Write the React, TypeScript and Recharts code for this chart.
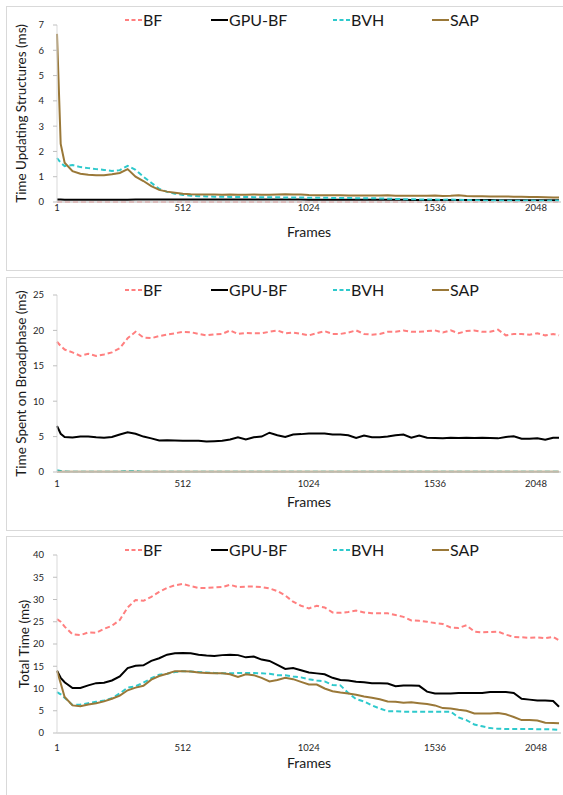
import { LineChart, Line, XAxis, YAxis, Legend } from "recharts";

// frame numbers the curves were sampled at
const frames = [
  1, 16, 32, 64, 96, 128, 160, 192, 224, 256, 288, 320, 352, 384, 416, 448, 480, 512, 544, 576, 608, 640, 672,
  704, 736, 768, 800, 832, 864, 896, 928, 960, 992, 1024, 1056, 1088, 1120, 1152, 1184, 1216, 1248, 1280, 1312,
  1344, 1376, 1408, 1440, 1472, 1504, 1536, 1568, 1600, 1632, 1664, 1696, 1728, 1760, 1792, 1824, 1856, 1888,
  1920, 1952, 1984, 2016, 2040,
];
const frameTicks = [1, 512, 1024, 1536, 2048];

// chart 1: time updating structures (ms)
const bfUpdate = [
  0, 0, 0, 0, 0, 0, 0, 0, 0, 0, 0, 0, 0, 0, 0, 0, 0, 0, 0, 0, 0, 0, 0, 0, 0, 0, 0, 0, 0, 0, 0, 0, 0, 0, 0, 0, 0,
  0, 0, 0, 0, 0, 0, 0, 0, 0, 0, 0, 0, 0, 0, 0, 0, 0, 0, 0, 0, 0, 0, 0, 0, 0, 0, 0, 0, 0,
];
const gpuUpdate = [
  0.1, 0.1, 0.09, 0.09, 0.09, 0.09, 0.09, 0.09, 0.09, 0.09, 0.09, 0.1, 0.1, 0.1, 0.1, 0.1, 0.1, 0.1, 0.1, 0.1,
  0.1, 0.1, 0.1, 0.1, 0.1, 0.1, 0.1, 0.1, 0.1, 0.1, 0.1, 0.1, 0.1, 0.09, 0.09, 0.09, 0.09, 0.09, 0.09, 0.09, 0.09,
  0.09, 0.09, 0.09, 0.09, 0.09, 0.08, 0.08, 0.08, 0.08, 0.08, 0.08, 0.08, 0.08, 0.08, 0.08, 0.08, 0.07, 0.07,
  0.07, 0.07, 0.07, 0.07, 0.07, 0.07, 0.07,
];
const bvhUpdate = [
  1.74, 1.55, 1.42, 1.46, 1.38, 1.34, 1.3, 1.27, 1.23, 1.26, 1.43, 1.27, 1.0, 0.76, 0.52, 0.4, 0.33, 0.28, 0.25,
  0.23, 0.22, 0.21, 0.21, 0.2, 0.2, 0.2, 0.19, 0.19, 0.19, 0.19, 0.18, 0.18, 0.18, 0.17, 0.17, 0.17, 0.16, 0.16,
  0.16, 0.15, 0.15, 0.15, 0.14, 0.13, 0.12, 0.11, 0.11, 0.1, 0.1, 0.1, 0.09, 0.1, 0.09, 0.08, 0.07, 0.06, 0.05,
  0.06, 0.05, 0.05, 0.05, 0.06, 0.05, 0.05, 0.06, 0.05,
];
const sapUpdate = [
  6.65, 2.3, 1.55, 1.22, 1.12, 1.08, 1.06, 1.06, 1.1, 1.15, 1.3, 1.0, 0.83, 0.63, 0.48, 0.41, 0.37, 0.33, 0.31,
  0.3, 0.3, 0.3, 0.29, 0.3, 0.29, 0.29, 0.3, 0.29, 0.29, 0.3, 0.31, 0.3, 0.3, 0.28, 0.27, 0.27, 0.27, 0.27, 0.26,
  0.26, 0.26, 0.26, 0.26, 0.27, 0.25, 0.25, 0.25, 0.25, 0.25, 0.26, 0.24, 0.25, 0.27, 0.24, 0.23, 0.23, 0.22,
  0.22, 0.22, 0.21, 0.21, 0.2, 0.2, 0.19, 0.18, 0.18,
];

// chart 2: time spent on broadphase (ms)
const bfBroad = [
  18.4, 17.8, 17.3, 16.9, 16.4, 16.7, 16.4, 16.6, 16.9, 17.5, 18.9, 19.8, 19.0, 18.9, 19.2, 19.4, 19.6, 19.8,
  19.75, 19.5, 19.3, 19.45, 19.5, 20.0, 19.5, 19.65, 19.6, 19.6, 19.8, 20.0, 19.6, 19.7, 19.5, 19.3, 19.6, 19.9,
  19.5, 19.5, 19.7, 20.0, 19.5, 19.4, 19.5, 19.8, 19.8, 20.0, 19.8, 19.8, 19.9, 20.0, 19.7, 20.0, 19.6, 19.9,
  20.0, 19.8, 19.8, 20.1, 19.3, 19.5, 19.5, 19.4, 19.6, 19.3, 19.5, 19.3,
];
const gpuBroad = [
  6.5, 5.4, 4.95, 4.88, 5.0, 5.0, 4.9, 4.85, 4.95, 5.3, 5.6, 5.4, 5.0, 4.75, 4.45, 4.5, 4.45, 4.4, 4.42, 4.4, 4.3,
  4.35, 4.4, 4.6, 4.9, 4.6, 4.9, 5.0, 5.55, 5.2, 4.95, 5.3, 5.35, 5.45, 5.45, 5.45, 5.3, 5.3, 5.2, 4.8, 5.15, 4.9,
  4.9, 5.0, 5.2, 5.3, 4.85, 5.15, 4.85, 4.8, 4.75, 4.85, 4.8, 4.85, 4.8, 4.85, 4.8, 4.75, 4.95, 5.05, 4.7, 4.7,
  4.75, 4.55, 4.85, 4.85,
];
const bvhBroad = [
  0.25, 0.15, 0.06, 0.04, 0.04, 0.04, 0.04, 0.04, 0.04, 0.05, 0.1, 0.1, 0.04, 0.04, 0.04, 0.04, 0.04, 0.04, 0.04,
  0.04, 0.04, 0.04, 0.04, 0.04, 0.04, 0.04, 0.04, 0.04, 0.04, 0.04, 0.04, 0.04, 0.04, 0.04, 0.04, 0.04, 0.04,
  0.04, 0.04, 0.04, 0.04, 0.04, 0.04, 0.04, 0.04, 0.04, 0.04, 0.04, 0.04, 0.04, 0.04, 0.04, 0.04, 0.04, 0.04,
  0.04, 0.04, 0.04, 0.04, 0.04, 0.04, 0.04, 0.04, 0.04, 0.04, 0.04,
];
const sapBroad = [
  0.03, 0.03, 0.03, 0.03, 0.03, 0.03, 0.03, 0.03, 0.03, 0.03, 0.03, 0.03, 0.03, 0.03, 0.03, 0.03, 0.03, 0.03,
  0.03, 0.03, 0.03, 0.03, 0.03, 0.03, 0.03, 0.03, 0.03, 0.03, 0.03, 0.03, 0.03, 0.03, 0.03, 0.03, 0.03, 0.03,
  0.03, 0.03, 0.03, 0.03, 0.03, 0.03, 0.03, 0.03, 0.03, 0.03, 0.03, 0.03, 0.03, 0.03, 0.03, 0.03, 0.03, 0.03,
  0.03, 0.03, 0.03, 0.03, 0.03, 0.03, 0.03, 0.03, 0.03, 0.03, 0.03, 0.03,
];

// chart 3: total time (ms)
const bfTotal = [
  25.6, 25.0, 23.9, 22.2, 22.0, 22.6, 22.5, 23.4, 24.1, 25.4, 28.2, 29.9, 29.7, 30.6, 31.7, 32.6, 33.2, 33.5,
  33.0, 32.6, 32.6, 32.7, 32.8, 33.3, 32.8, 32.9, 32.9, 32.8, 32.5, 31.9, 30.9, 29.5, 28.6, 28.0, 28.6, 28.2,
  27.1, 27.0, 27.2, 27.5, 27.1, 26.9, 26.9, 26.9, 26.5, 26.1, 25.3, 25.2, 25.0, 24.7, 24.5, 23.7, 23.6, 24.2,
  22.8, 22.6, 22.7, 22.8, 22.1, 21.6, 21.5, 21.4, 21.5, 21.3, 21.6, 20.8,
];
const gpuTotal = [
  14.0, 12.4, 11.4, 10.1, 10.1, 10.7, 11.2, 11.3, 11.8, 12.7, 14.6, 15.1, 15.2, 16.2, 16.8, 17.6, 17.9, 18.0,
  17.9, 17.6, 17.4, 17.3, 17.5, 17.6, 17.5, 17.0, 17.2, 16.5, 16.2, 15.3, 14.4, 14.6, 14.1, 13.6, 13.4, 13.2,
  12.4, 11.9, 11.8, 11.5, 11.4, 11.2, 11.2, 11.1, 10.5, 10.7, 10.7, 10.6, 9.3, 8.9, 8.9, 8.9, 9.0, 9.0, 9.0, 9.0,
  9.2, 9.2, 9.2, 9.0, 7.7, 7.5, 7.3, 7.3, 7.2, 5.9,
];
const bvhTotal = [
  9.2, 8.7, 7.9, 6.3, 6.4, 6.7, 7.0, 7.3, 7.8, 8.9, 10.2, 10.5, 11.3, 12.3, 13.1, 13.3, 13.7, 13.9, 13.8, 13.7,
  13.6, 13.5, 13.4, 13.4, 13.5, 13.5, 13.5, 13.4, 13.3, 13.0, 13.0, 12.7, 12.5, 12.1, 11.8, 11.6, 10.8, 10.7,
  9.0, 7.6, 7.1, 6.2, 5.5, 4.9, 4.9, 4.8, 4.8, 4.8, 4.8, 4.8, 4.8, 4.8, 3.5, 2.9, 1.9, 1.5, 1.1, 0.95, 0.9, 0.9,
  0.9, 0.9, 0.85, 0.85, 0.8, 0.7,
];
const sapTotal = [
  14.0, 11.2, 8.1, 6.2, 6.0, 6.4, 6.7, 7.1, 7.7, 8.4, 9.6, 10.2, 10.6, 12.0, 12.8, 13.3, 13.9, 13.9, 13.8, 13.6,
  13.5, 13.4, 13.4, 13.2, 12.6, 13.2, 13.0, 12.4, 11.6, 11.9, 12.4, 12.1, 11.5, 10.9, 10.9, 10.0, 9.4, 9.1, 8.9,
  8.6, 8.2, 7.9, 7.6, 7.1, 7.0, 6.8, 6.9, 6.7, 6.5, 6.2, 5.6, 5.5, 5.2, 5.0, 4.4, 4.4, 4.4, 4.5, 4.2, 3.6, 2.9,
  2.9, 2.8, 2.3, 2.25, 2.2,
];

const series = [
  { key: "BF", color: "#FF7F7F", dash: "5 3", legendLeft: 125 },
  { key: "GPU-BF", color: "#000000", dash: undefined, legendLeft: 211 },
  { key: "BVH", color: "#2EC9CC", dash: "5 3", legendLeft: 333 },
  { key: "SAP", color: "#9A7838", dash: undefined, legendLeft: 432 },
];

const buildRows = (bf: number[], gpu: number[], bvh: number[], sap: number[]) =>
  frames.map((f, i) => ({ frame: f, BF: bf[i], "GPU-BF": gpu[i], BVH: bvh[i], SAP: sap[i] }));

const renderLegend = () => (
  <div style={{ position: "relative", width: 570, height: 20 }}>
    {series.map((s) => (
      <div
        key={s.key}
        style={{ position: "absolute", left: s.legendLeft, top: 0, height: 20, display: "flex", alignItems: "center" }}
      >
        <svg width={17} height={4} style={{ display: "block" }}>
          <line x1={0} y1={2} x2={17} y2={2} stroke={s.color} strokeWidth={2} strokeDasharray={s.dash ? "4 2.5" : undefined} />
        </svg>
        <span style={{ fontSize: 16, marginLeft: 1, color: "#1a1a1a", lineHeight: "20px" }}>{s.key}</span>
      </div>
    ))}
  </div>
);

const FrameTick = (props: any) => {
  const { x, y, payload } = props;
  const last = payload.value === 2048;
  return (
    <text x={last ? x - 7 : x} y={y} dy="0.71em" textAnchor={last ? "end" : "middle"} fontSize={9.5} fill="#262626">
      {payload.value}
    </text>
  );
};

type PanelProps = {
  top: number;
  height: number;
  rows: any[];
  yMax: number;
  yTicks: number[];
  yTitle: string;
  yTitleX: number;
  xTickGap: number;
};

const Panel = ({ top, height, rows, yMax, yTicks, yTitle, yTitleX, xTickGap }: PanelProps) => (
  <div style={{ position: "absolute", left: 0, top }}>
    <LineChart width={570} height={height} data={rows} margin={{ top: 5, right: 9, bottom: 0, left: 0 }}>
      <XAxis
        dataKey="frame"
        type="number"
        domain={[1, 2048]}
        ticks={frameTicks}
        tick={<FrameTick />}
        tickLine={false}
        tickSize={0}
        tickMargin={xTickGap}
        height={40}
        axisLine={{ stroke: "#D0D0D0", strokeWidth: 1.5 }}
        label={{ value: "Frames", position: "insideBottom", offset: 5, fontSize: 14, fill: "#1a1a1a" }}
      />
      <YAxis
        domain={[0, yMax]}
        ticks={yTicks}
        width={57}
        tickSize={4}
        tickMargin={9}
        tick={{ fontSize: 9.5, fill: "#262626" }}
        tickLine={{ stroke: "#BFBFBF" }}
        axisLine={{ stroke: "#D9D9D9" }}
        label={{
          value: yTitle,
          angle: -90,
          position: "insideLeft",
          offset: yTitleX,
          fontSize: 13.5,
          fill: "#1a1a1a",
          style: { textAnchor: "middle" },
        }}
      />
      <Legend verticalAlign="top" content={renderLegend} wrapperStyle={{ left: 0, top: 10, width: 570 }} />
      {series.map((s) => (
        <Line
          key={s.key}
          type="linear"
          dataKey={s.key}
          stroke={s.color}
          strokeWidth={2}
          strokeDasharray={s.dash}
          dot={false}
          activeDot={false}
          isAnimationActive={false}
        />
      ))}
    </LineChart>
  </div>
);

const boxStyle = (top: number, height: number) => ({
  position: "absolute" as const,
  left: 6,
  top,
  width: 620,
  height,
  border: "1px solid #D9D9D9",
  boxSizing: "border-box" as const,
});

const App = () => (
  <div
    style={{
      position: "absolute",
      left: 0,
      top: 0,
      width: 563,
      height: 795,
      overflow: "hidden",
      background: "#fff",
      fontFamily: "Lato, 'Open Sans', sans-serif",
    }}
  >
    <div style={boxStyle(6, 265)} />
    <div style={boxStyle(277, 254)} />
    <div style={boxStyle(536, 300)} />
    <Panel
      top={0}
      height={242}
      rows={buildRows(bfUpdate, gpuUpdate, bvhUpdate, sapUpdate)}
      yMax={7}
      yTicks={[0, 1, 2, 3, 4, 5, 6, 7]}
      yTitle="Time Updating Structures (ms)"
      yTitleX={21}
      xTickGap={2}
    />
    <Panel
      top={270}
      height={242}
      rows={buildRows(bfBroad, gpuBroad, bvhBroad, sapBroad)}
      yMax={25}
      yTicks={[0, 5, 10, 15, 20, 25]}
      yTitle="Time Spent on Broadphase (ms)"
      yTitleX={21}
      xTickGap={8}
    />
    <Panel
      top={530}
      height={243}
      rows={buildRows(bfTotal, gpuTotal, bvhTotal, sapTotal)}
      yMax={40}
      yTicks={[0, 5, 10, 15, 20, 25, 30, 35, 40]}
      yTitle="Total Time (ms)"
      yTitleX={24}
      xTickGap={11}
    />
  </div>
);

export default App;
